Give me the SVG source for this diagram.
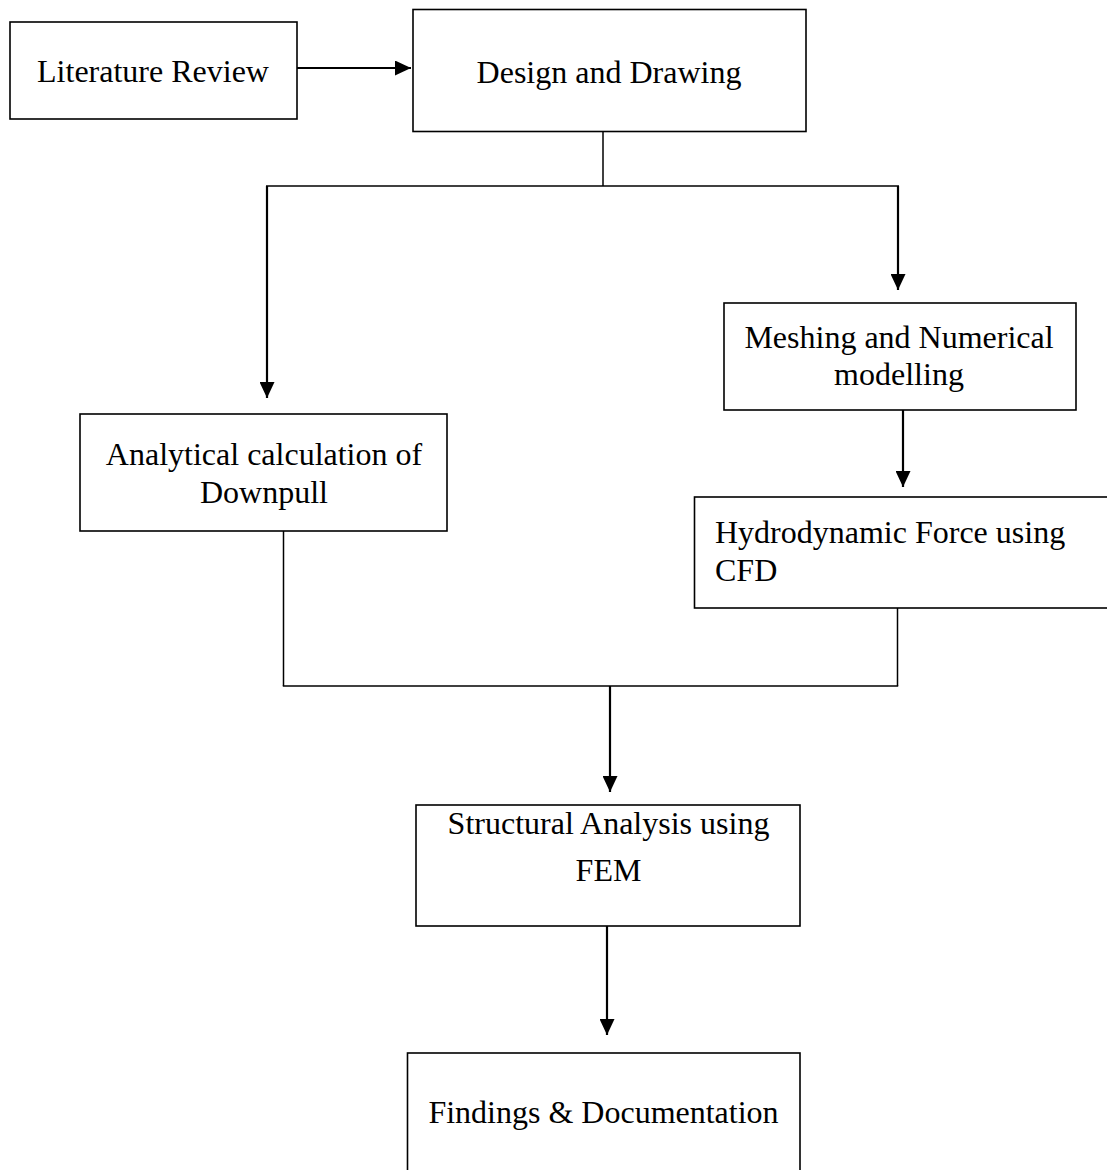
<svg xmlns="http://www.w3.org/2000/svg" width="1107" height="1170" viewBox="0 0 1107 1170">
  <style>
    .box { fill: #ffffff; stroke: #000000; stroke-width: 1.6; }
    .lbl { font-family: "Liberation Serif", "Times New Roman", serif; font-size: 32px; fill: #000000; }
    .mid { text-anchor: middle; }
    .line { fill: none; stroke: #000000; stroke-width: 1.5; }
    .arrow { fill: none; stroke: #000000; stroke-width: 2.2; marker-end: url(#ah); }
  </style>
  <defs>
    <marker id="ah" markerUnits="userSpaceOnUse" markerWidth="16" markerHeight="15" refX="16" refY="7.5" orient="auto">
      <path d="M0,0 L16,7.5 L0,15 Z" fill="#000000"/>
    </marker>
  </defs>
  <rect width="1107" height="1170" fill="#ffffff"/>

  <g id="connectors">
    <line class="arrow" x1="297" y1="68" x2="411" y2="68"/>
    <line class="line" x1="603" y1="131" x2="603" y2="186"/>
    <line class="line" x1="266" y1="186" x2="899" y2="186"/>
    <line class="arrow" x1="267" y1="186" x2="267" y2="398"/>
    <line class="arrow" x1="898" y1="186" x2="898" y2="290"/>
    <line class="arrow" x1="903" y1="410" x2="903" y2="487"/>
    <line class="line" x1="283.5" y1="531" x2="283.5" y2="686"/>
    <line class="line" x1="897.5" y1="608" x2="897.5" y2="686"/>
    <line class="line" x1="282.8" y1="686" x2="898.2" y2="686"/>
    <line class="arrow" x1="610" y1="686" x2="610" y2="792"/>
    <line class="arrow" x1="607" y1="926" x2="607" y2="1035"/>
  </g>

  <g id="literature-review">
    <rect class="box" x="10" y="22" width="287" height="97"/>
    <text class="lbl mid" x="153" y="82">Literature Review</text>
  </g>

  <g id="design-drawing">
    <rect class="box" x="413" y="9.5" width="393" height="122"/>
    <text class="lbl mid" x="609" y="83">Design and Drawing</text>
  </g>

  <g id="meshing">
    <rect class="box" x="724" y="303" width="352" height="107"/>
    <text class="lbl mid" x="899" y="348">Meshing and Numerical</text>
    <text class="lbl mid" x="899" y="385">modelling</text>
  </g>

  <g id="analytical">
    <rect class="box" x="80" y="414" width="367" height="117"/>
    <text class="lbl mid" x="264" y="465">Analytical calculation of</text>
    <text class="lbl mid" x="264" y="503">Downpull</text>
  </g>

  <g id="hydrodynamic">
    <rect class="box" x="694.5" y="497" width="420" height="111"/>
    <text class="lbl" x="715" y="543">Hydrodynamic Force using</text>
    <text class="lbl" x="715" y="581">CFD</text>
  </g>

  <g id="structural">
    <rect class="box" x="416" y="805" width="384" height="121"/>
    <text class="lbl mid" x="608.5" y="834">Structural Analysis using</text>
    <text class="lbl mid" x="608.5" y="881">FEM</text>
  </g>

  <g id="findings">
    <rect class="box" x="407.5" y="1053" width="392.5" height="130"/>
    <text class="lbl mid" x="603.5" y="1123">Findings &amp; Documentation</text>
  </g>
</svg>
